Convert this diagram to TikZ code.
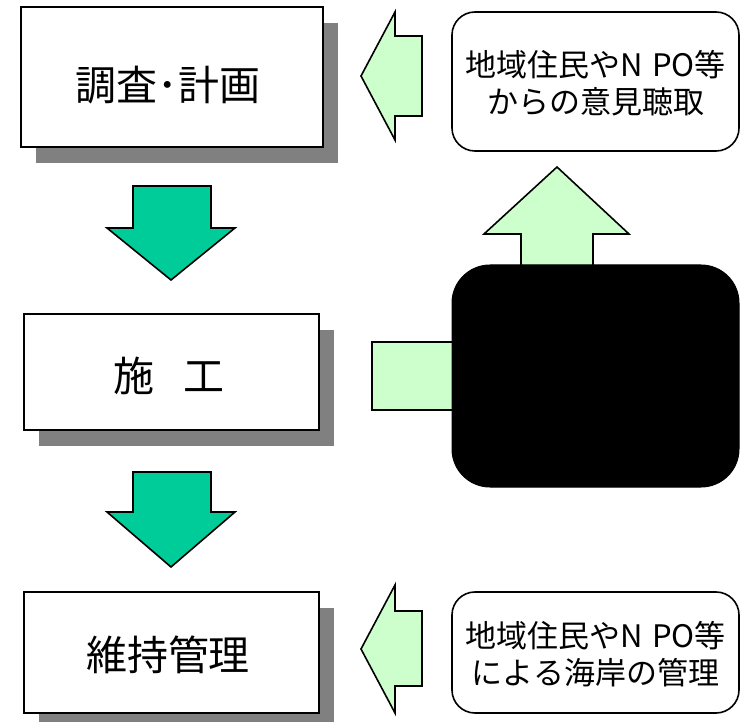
\documentclass[tikz,border=0pt]{standalone}
\usepackage{fontspec}
\setmainfont{Noto Sans CJK JP}
\usetikzlibrary{shadows}
\definecolor{dgreen}{RGB}{0,204,153}
\definecolor{lgreen}{RGB}{204,255,204}
\definecolor{shadowgray}{RGB}{128,128,128}
\begin{document}
\begin{tikzpicture}[x=1pt,y=-1pt,
  stagebox/.style={draw=black,line width=1.6pt,fill=white,inner sep=0pt,
    drop shadow={shadow xshift=15pt,shadow yshift=-16pt,fill=shadowgray,opacity=1}},
  bigtext/.style={font=\fontsize{41}{48}\selectfont,inner sep=0pt},
  smalltext/.style={font=\fontsize{31}{37}\selectfont,align=center,inner sep=0pt},
  roundbox/.style={draw=black,line width=1.6pt,fill=white,rounded corners=23pt,inner sep=0pt},
  darrow/.style={draw=black,line width=1.6pt,fill=dgreen,line join=miter},
  larrow/.style={draw=black,line width=1.6pt,fill=lgreen,line join=miter}]
\useasboundingbox (0,0) rectangle (740,722);
% left stage boxes
\node[stagebox,minimum width=302pt,minimum height=140pt] (b1) at (172,77) {};
\node[stagebox,minimum width=295pt,minimum height=116pt] (b2) at (171.5,372) {};
\node[stagebox,minimum width=295pt,minimum height=121pt] (b3) at (171.5,652.5) {};
\node[bigtext] (t1) at (168,85) {調査･計画};
\node[bigtext] (t2) at (169,376) {施\hspace{0.7em}工};
\node[bigtext] (t3) at (168,655) {維持管理};
% down arrows
\draw[darrow] (133,186) -- (211,186) -- (211,228) -- (235,228) -- (171,280) -- (107,228) -- (133,228) -- cycle;
\draw[darrow] (133,472) -- (211,472) -- (211,512) -- (235,512) -- (171,567) -- (107,512) -- (133,512) -- cycle;
% left-pointing arrows
\draw[larrow] (361,76) -- (395,12) -- (395,36) -- (422,36) -- (422,116) -- (395,116) -- (395,140) -- cycle;
\draw[larrow] (361,649) -- (395,585) -- (395,611) -- (422,611) -- (422,686) -- (395,686) -- (395,713) -- cycle;
% up arrow and side block (under black box)
\draw[larrow] (557,167) -- (629,234) -- (593,234) -- (593,290) -- (521,290) -- (521,234) -- (484,234) -- cycle;
\draw[larrow] (372,342) rectangle (480,410);
% black box
\node[draw=black,fill=black,line width=1pt,rounded corners=38pt,minimum width=287pt,minimum height=222pt,inner sep=0pt] (bk) at (595.5,376) {};
% right rounded boxes
\node[roundbox,minimum width=287pt,minimum height=139pt] (r1) at (595.5,81.5) {};
\node[smalltext] (rt1) at (595.5,83.5) {地域住民やN\hspace{0.3em}PO等\\からの意見聴取};
\node[roundbox,minimum width=287pt,minimum height=121pt] (r2) at (595.5,652.5) {};
\node[smalltext] (rt2) at (595.5,654.5) {地域住民やN\hspace{0.3em}PO等\\による海岸の管理};
\end{tikzpicture}
\end{document}
